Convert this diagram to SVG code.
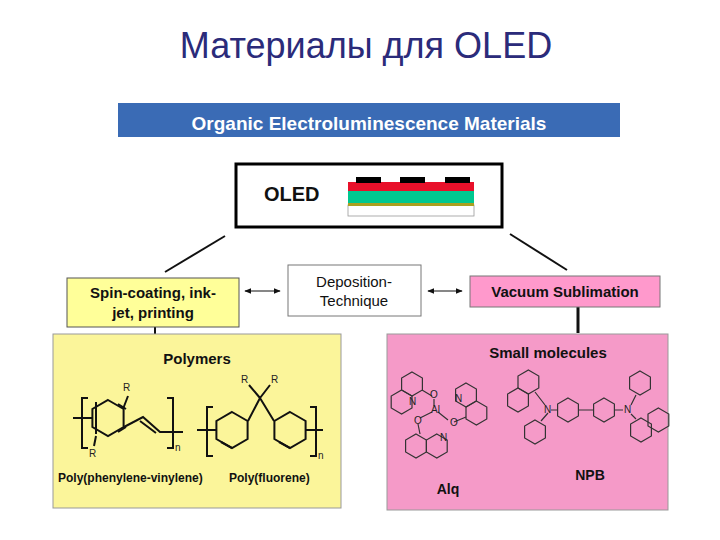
<svg xmlns="http://www.w3.org/2000/svg" width="720" height="540" viewBox="0 0 720 540">
<style>
.b{font-family:"Liberation Sans",Arial,sans-serif;font-weight:bold;fill:#111}
.s{font-family:"Liberation Sans",Arial,sans-serif;fill:#222;font-size:10px}
.m{fill:none;stroke:#111;stroke-width:2}
.t{fill:none;stroke:#333;stroke-width:1.2}
.c{stroke:#111;stroke-width:2;fill:none}
</style>
<defs>
<marker id="ah" viewBox="0 0 10 10" refX="9" refY="5" markerWidth="6" markerHeight="6" orient="auto-start-reverse"><path d="M0,1 L10,5 L0,9 z" fill="#111"/></marker>
<path id="hx" d="M0,-12 L10.4,-6 L10.4,6 L0,12 L-10.4,6 L-10.4,-6 Z"/>
<path id="hb" d="M0,-18 L15.6,-9 L15.6,9 L0,18 L-15.6,9 L-15.6,-9 Z"/>
</defs>
<rect width="720" height="540" fill="#fff"/>
<text x="366" y="58" text-anchor="middle" font-family="'Liberation Sans',Arial,sans-serif" font-size="36" fill="#2b2b7a">Материалы для OLED</text>
<g id="header"><rect x="118" y="103" width="502" height="34" fill="#3a6bb5"/><text x="369" y="130" text-anchor="middle" class="b" font-size="19" style="fill:#fff">Organic Electroluminescence Materials</text></g>
<g id="oled">
<rect x="236" y="164" width="266" height="63" fill="#fff" stroke="#000" stroke-width="3"/>
<text x="264" y="201" class="b" font-size="20">OLED</text>
<rect x="348" y="205" width="126" height="11" fill="#fff" stroke="#999" stroke-width="0.8"/>
<rect x="348" y="203" width="126" height="3" fill="#aaa020"/>
<rect x="348" y="191" width="126" height="12" fill="#00c890"/>
<rect x="348" y="182" width="126" height="9" fill="#e8102a"/>
<rect x="356" y="177" width="25" height="6" fill="#000"/><rect x="400" y="177" width="25" height="6" fill="#000"/><rect x="445" y="177" width="25" height="6" fill="#000"/>
</g>
<g id="connectors">
<line x1="225" y1="236" x2="165" y2="272" class="c"/>
<line x1="510" y1="234" x2="567" y2="270" class="c"/>
<line x1="245" y1="291" x2="280" y2="291" stroke="#111" stroke-width="1.2" marker-start="url(#ah)" marker-end="url(#ah)"/>
<line x1="428" y1="291" x2="462" y2="291" stroke="#111" stroke-width="1.2" marker-start="url(#ah)" marker-end="url(#ah)"/>
<line x1="155" y1="327" x2="155" y2="334" stroke="#111" stroke-width="2"/>
<line x1="578" y1="307" x2="578" y2="333" stroke="#111" stroke-width="3"/>
</g>
<g id="spin"><rect x="67" y="278" width="172" height="49" fill="#ffff99" stroke="#555"/>
<text x="153" y="298" text-anchor="middle" class="b" font-size="15">Spin-coating, ink-</text><text x="153" y="318" text-anchor="middle" class="b" font-size="15">jet, printing</text></g>
<g id="deposition"><rect x="288" y="265" width="133" height="51" fill="#fff" stroke="#777"/>
<text x="354" y="287" text-anchor="middle" font-family="'Liberation Sans',Arial,sans-serif" font-size="15" fill="#111">Deposition-</text><text x="354" y="306" text-anchor="middle" font-family="'Liberation Sans',Arial,sans-serif" font-size="15" fill="#111">Technique</text></g>
<g id="vacuum"><rect x="470" y="276" width="190" height="31" fill="#ff99cc" stroke="#777"/>
<text x="565" y="297" text-anchor="middle" class="b" font-size="15">Vacuum Sublimation</text></g>
<g id="polymers">
<rect x="53" y="334" width="288" height="174" fill="#fbf59a" stroke="#999"/>
<text x="197" y="364" text-anchor="middle" class="b" font-size="15">Polymers</text>
<use href="#hb" x="108" y="418" class="m"/>
<path class="m" d="M96,402 L96,434 M118,432 L126,427 M118,404 L126,409"/>
<path class="m" d="M73,418 L92,418 M123,409 L128,396 M96,436 L94,446 M124,427 L143,417 L160,432 L183,432 M140,421 L156,433"/>
<path class="m" d="M88,398 L82,398 L82,448 L88,448 M167,398 L173,398 L173,448 L167,448"/>
<text x="123" y="391" class="s">R</text><text x="89" y="457" class="s">R</text><text x="175" y="451" class="s" font-size="6">n</text>
<use href="#hb" x="232" y="430" class="m"/><use href="#hb" x="290" y="430" class="m"/>
<path class="m" d="M248,421 L260,398 L274,421 M260,398 L249,385 M260,398 L270,385 M197,430 L216,430 M306,430 L323,430 M221,442 L232,448 M279,442 L290,448"/>
<path class="m" d="M213,407 L207,407 L207,456 L213,456 M310,407 L316,407 L316,456 L310,456"/>
<text x="241" y="383" class="s">R</text><text x="271" y="383" class="s">R</text><text x="318" y="459" class="s" font-size="6">n</text>
<text x="58" y="482" class="b" font-size="12">Poly(phenylene-vinylene)</text><text x="229" y="482" class="b" font-size="12">Poly(fluorene)</text>
</g>
<g id="small">
<rect x="387" y="334" width="281" height="176" fill="#f59ac8" stroke="#999"/>
<text x="548" y="358" text-anchor="middle" class="b" font-size="15">Small molecules</text>
<use href="#hx" x="412" y="384" class="t"/><use href="#hx" x="401.6" y="402" class="t"/>
<use href="#hx" x="466" y="395" class="t"/><use href="#hx" x="476.4" y="413" class="t"/>
<use href="#hx" x="416" y="446" class="t"/><use href="#hx" x="436.8" y="446" class="t"/>
<path class="t" d="M422,390 L432,396 M434,399 L434,406 M438,412 L448,420 M454,422 L466,417 M432,412 L420,418 M418,424 L420,434"/>
<text x="430" y="398" class="s" font-size="7">O</text><text x="431" y="413" class="s" font-size="7">Al</text><text x="450" y="426" class="s" font-size="7">O</text><text x="414" y="424" class="s" font-size="7">O</text>
<text x="409" y="405" class="s" font-size="7">N</text><text x="455" y="402" class="s" font-size="7">N</text><text x="440" y="441" class="s" font-size="7">N</text>
<use href="#hx" x="518" y="400" class="t"/><use href="#hx" x="528.4" y="382" class="t"/>
<use href="#hx" x="535" y="432" class="t"/>
<use href="#hx" x="568" y="410" class="t"/><use href="#hx" x="604" y="410" class="t"/>
<use href="#hx" x="640" y="383" class="t"/>
<use href="#hx" x="641" y="430" class="t"/><use href="#hx" x="658.4" y="420" class="t"/>
<path class="t" d="M535,392 L545,405 M548,413 L541,421 M551,410 L557,410 M579,410 L593,410 M615,410 L623,410 M631,405 L636,395 M631,414 L636,419"/>
<text x="544" y="413" class="s" font-size="7">N</text><text x="624" y="413" class="s" font-size="7">N</text>
<text x="448" y="494" text-anchor="middle" class="b" font-size="14">Alq</text>
<text x="590" y="480" text-anchor="middle" class="b" font-size="14">NPB</text>
</g>
</svg>
